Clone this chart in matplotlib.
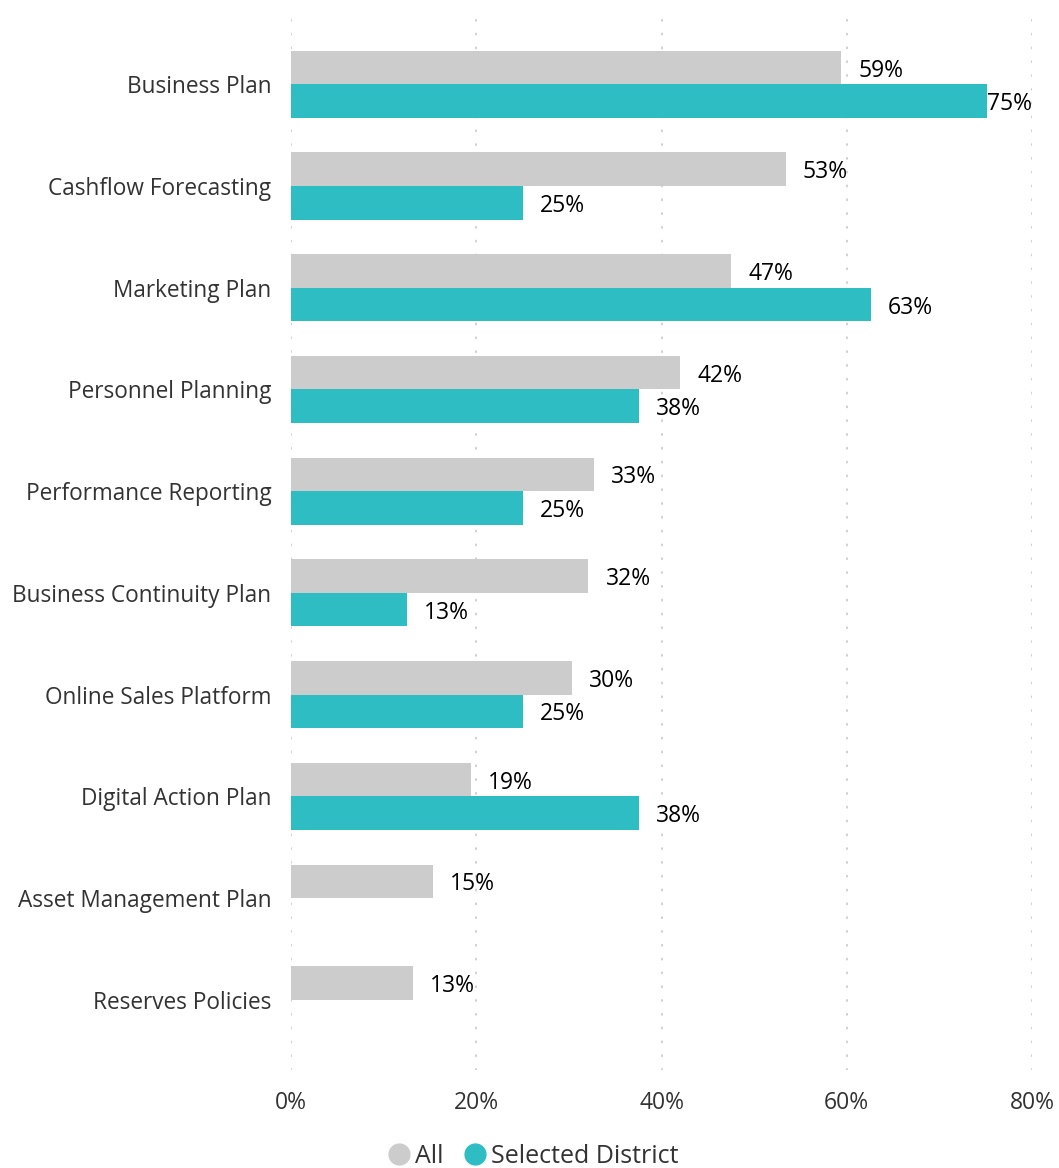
import numpy as np
import matplotlib
matplotlib.use("Agg")
import matplotlib.pyplot as plt
from matplotlib.lines import Line2D

plt.rcParams['font.family'] = ['Open Sans', 'DejaVu Sans']

# data
categories = ["Business Plan", "Cashflow Forecasting", "Marketing Plan",
              "Personnel Planning", "Performance Reporting",
              "Business Continuity Plan", "Online Sales Platform",
              "Digital Action Plan", "Asset Management Plan", "Reserves Policies"]
all_vals = [59.4, 53.4, 47.5, 42.0, 32.7, 32.1, 30.3, 19.4, 15.3, 13.2]
all_labels = ["59%", "53%", "47%", "42%", "33%", "32%", "30%", "19%", "15%", "13%"]
district_vals = [75.1, 25.0, 62.6, 37.6, 25.0, 12.5, 25.0, 37.6, None, None]
district_labels = ["75%", "25%", "63%", "38%", "25%", "13%", "25%", "38%", None, None]
x_ticks = [0, 20, 40, 60, 80]

grey = "#CCCCCC"
teal = "#2DBDC3"

fig = plt.figure(figsize=(10.59, 11.68), dpi=100)
ax = fig.add_axes([0.2748, 0.0839, 0.6997, 0.9075])

y = np.arange(len(categories))
h = 0.33

ax.barh(y - h / 2, all_vals, height=h, color=grey, zorder=2)
d_y = [yy + h / 2 for yy, v in zip(y, district_vals) if v is not None]
d_v = [v for v in district_vals if v is not None]
ax.barh(d_y, d_v, height=h, color=teal, zorder=2)

# value labels, pushed back inside the axis when they would overflow
off = 1.85
def put_label(xv, yv, txt):
    if xv + off + 5.0 > 80:
        ax.text(80, yv + 0.03, txt, ha='right', va='center', fontsize=16.5, color='black', zorder=3)
    else:
        ax.text(xv + off, yv + 0.03, txt, ha='left', va='center', fontsize=16.5, color='black', zorder=3)

for yy, v, t in zip(y, all_vals, all_labels):
    put_label(v, yy - h / 2, t)
for yy, v, t in zip(y, district_vals, district_labels):
    if v is not None:
        put_label(v, yy + h / 2, t)

ax.set_xlim(0, 80)
ax.set_ylim(9.69, -0.73)
ax.set_xticks(x_ticks)
ax.set_xticklabels([f"{t}%" for t in x_ticks], fontsize=16.5, color='#333333')
ax.set_yticks(y)
ax.set_yticklabels(categories, fontsize=16.3, color='#333333')
ax.tick_params(axis='both', length=0)
ax.tick_params(axis='y', pad=14)
ax.tick_params(axis='x', pad=15)

for t in x_ticks:
    ax.axvline(t, color='#CFCFCF', linewidth=1.4, dashes=(0.5, 6.6),
               dash_capstyle='round', zorder=1)

for s in ax.spines.values():
    s.set_visible(False)

handles = [Line2D([0], [0], marker='o', linestyle='', markersize=15,
                  markerfacecolor=grey, markeredgecolor=grey, label='All'),
           Line2D([0], [0], marker='o', linestyle='', markersize=15,
                  markerfacecolor=teal, markeredgecolor=teal, label='Selected District')]
fig.legend(handles=handles, loc='center', bbox_to_anchor=(0.497, 0.010), ncol=2,
           frameon=False, fontsize=18, handletextpad=-0.35, columnspacing=0.25,
           labelcolor='#333333')

fig.savefig("out.png", dpi=100)
